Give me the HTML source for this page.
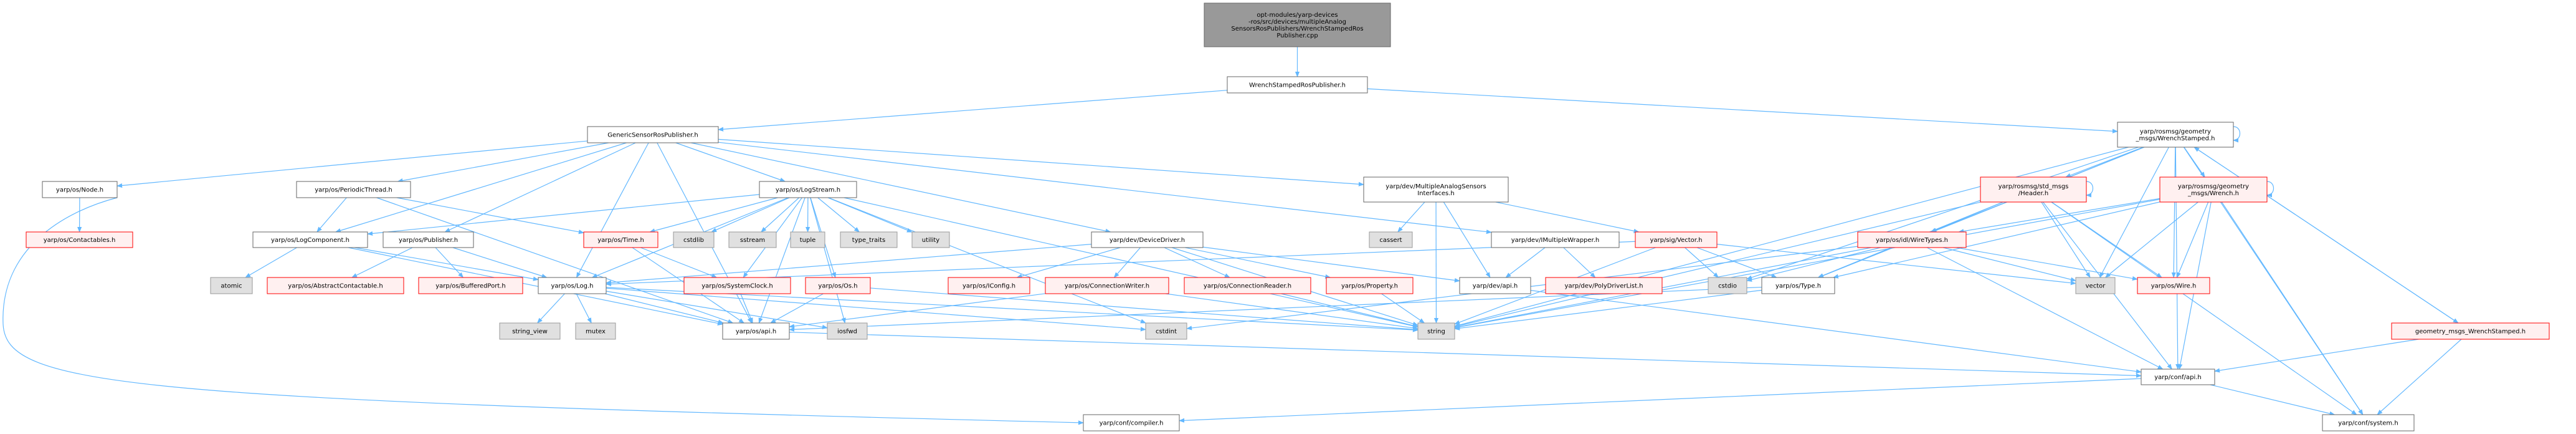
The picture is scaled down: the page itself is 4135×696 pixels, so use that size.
<!DOCTYPE html>
<html><head><meta charset="utf-8">
<style>
html,body{margin:0;padding:0;background:#fff;width:4135px;height:696px;overflow:hidden}
svg text{font-family:"DejaVu Sans","Liberation Sans",sans-serif;font-size:10px;fill:#000}
</style></head><body>
<svg id="g" width="4135" height="696" xmlns="http://www.w3.org/2000/svg">
<defs><marker id="a" viewBox="0 0 10 10" refX="9" refY="5" markerWidth="9" markerHeight="9" orient="auto" markerUnits="userSpaceOnUse"><path d="M0,1 L10,5 L0,9 z" fill="#63b8ff"/></marker></defs>
<g id="edges"></g>
<g id="nodes"></g>
</svg>
<script>
var N={
root:[1933,5,2232,75,'r',['opt-modules/yarp-devices','-ros/src/devices/multipleAnalog','SensorsRosPublishers/WrenchStampedRos','Publisher.cpp']],
wsrp:[1970,123,2195,149,'w',['WrenchStampedRosPublisher.h']],
gsrp:[943,203,1153,229,'w',['GenericSensorRosPublisher.h']],
ws:[3399,196,3585,236,'w',['yarp/rosmsg/geometry','_msgs/WrenchStamped.h']],
node:[68,291,188,317,'w',['yarp/os/Node.h']],
pt:[476,291,659,317,'w',['yarp/os/PeriodicThread.h']],
ls:[1219,291,1375,317,'w',['yarp/os/LogStream.h']],
masi:[2189,284,2421,324,'w',['yarp/dev/MultipleAnalogSensors','Interfaces.h']],
hdr:[3179,284,3349,324,'x',['yarp/rosmsg/std_msgs','/Header.h']],
wr:[3467,284,3639,324,'x',['yarp/rosmsg/geometry','_msgs/Wrench.h']],
cont:[42,372,213,397,'x',['yarp/os/Contactables.h']],
lc:[406,372,590,397,'w',['yarp/os/LogComponent.h']],
pub:[615,372,760,397,'w',['yarp/os/Publisher.h']],
time:[937,372,1056,397,'x',['yarp/os/Time.h']],
cstdlib:[1081,372,1146,397,'g',['cstdlib']],
sstream:[1170,372,1246,397,'g',['sstream']],
tuple:[1269,372,1324,397,'g',['tuple']],
tt:[1349,372,1440,397,'g',['type_traits']],
utility:[1464,372,1524,397,'g',['utility']],
dd:[1752,372,1931,397,'w',['yarp/dev/DeviceDriver.h']],
cassert:[2198,372,2267,397,'g',['cassert']],
imw:[2394,372,2599,397,'w',['yarp/dev/IMultipleWrapper.h']],
vec:[2625,372,2756,397,'x',['yarp/sig/Vector.h']],
wt:[2982,372,3156,397,'x',['yarp/os/idl/WireTypes.h']],
atomic:[338,445,405,471,'g',['atomic']],
abs:[429,445,648,471,'x',['yarp/os/AbstractContactable.h']],
bp:[672,445,839,471,'x',['yarp/os/BufferedPort.h']],
log:[864,445,973,471,'w',['yarp/os/Log.h']],
sc:[1098,445,1269,471,'x',['yarp/os/SystemClock.h']],
os:[1293,445,1397,471,'x',['yarp/os/Os.h']],
icfg:[1522,445,1653,471,'x',['yarp/os/IConfig.h']],
cw:[1678,445,1876,471,'x',['yarp/os/ConnectionWriter.h']],
cr:[1901,445,2104,471,'x',['yarp/os/ConnectionReader.h']],
prop:[2129,445,2268,471,'x',['yarp/os/Property.h']],
dapi:[2343,445,2457,471,'w',['yarp/dev/api.h']],
pdl:[2481,445,2668,471,'x',['yarp/dev/PolyDriverList.h']],
cstdio:[2742,445,2804,471,'g',['cstdio']],
type:[2828,445,2945,471,'w',['yarp/os/Type.h']],
vector:[3332,445,3395,471,'g',['vector']],
wire:[3431,445,3547,471,'x',['yarp/os/Wire.h']],
sv:[802,518,899,544,'g',['string_view']],
mutex:[924,518,988,544,'g',['mutex']],
osapi:[1160,518,1267,544,'w',['yarp/os/api.h']],
iosfwd:[1328,518,1392,544,'g',['iosfwd']],
cstdint:[1839,518,1905,544,'g',['cstdint']],
string:[2276,518,2335,544,'g',['string']],
gmws:[3839,518,4092,544,'x',['geometry_msgs_WrenchStamped.h']],
capi:[3437,592,3555,617,'w',['yarp/conf/api.h']],
comp:[1739,665,1893,691,'w',['yarp/conf/compiler.h']],
sys:[3728,665,3875,691,'w',['yarp/conf/system.h']]
};
var E=[['root','wsrp'],['wsrp','gsrp'],['wsrp','ws'],
['gsrp','node'],['gsrp','pt'],['gsrp','ls'],['gsrp','lc'],['gsrp','pub'],['gsrp','log'],['gsrp','dd'],['gsrp','masi'],['gsrp','imw'],['gsrp','osapi'],
['node','cont'],
['pt','time'],['pt','osapi'],['pt','lc'],
['ls','time'],['ls','cstdlib'],['ls','sstream'],['ls','tuple'],['ls','tt'],['ls','utility'],['ls','log'],['ls','sc'],['ls','os'],['ls','lc'],['ls','string'],['ls','iosfwd'],['ls','osapi'],['ls','cstdint'],
['lc','atomic'],['lc','log'],['lc','osapi'],
['pub','abs'],['pub','bp'],['pub','log'],
['time','sc'],['time','osapi'],
['log','sv'],['log','mutex'],['log','osapi'],['log','iosfwd'],['log','cstdint'],['log','string'],
['sc','osapi'],['os','osapi'],['os','string'],['osapi','capi'],
['dd','icfg'],['dd','cw'],['dd','cr'],['dd','prop'],['dd','dapi'],['dd','log'],['dd','string'],
['cw','osapi'],['cw','string'],['cr','string'],['prop','string'],
['masi','cassert'],['masi','string'],['masi','dapi'],['masi','vec'],
['imw','dapi'],['imw','pdl'],
['vec','string'],['vec','type'],['vec','cstdio'],['vec','vector'],['vec','log'],
['dapi','capi'],
['ws','hdr'],['ws','wr'],['ws','wt'],['ws','type'],['ws','vector'],['ws','wire'],['ws','string'],['ws','capi'],['ws','sys'],['ws','gmws'],['ws','cstdio'],
['hdr','wt'],['hdr','type'],['hdr','vector'],['hdr','wire'],['hdr','string'],['hdr','capi'],['hdr','sys'],
['wr','wt'],['wr','type'],['wr','vector'],['wr','wire'],['wr','capi'],['wr','sys'],['wr','string'],
['wt','cstdio'],['wt','type'],['wt','vector'],['wt','wire'],['wt','string'],['wt','capi'],['wt','cstdint'],
['type','string'],['type','osapi'],
['gmws','capi'],['gmws','sys'],['gmws','ws'],
['capi','sys'],['capi','comp']];
var S='http://www.w3.org/2000/svg';
var gn=document.getElementById('nodes'),ge=document.getElementById('edges');
function el(t,a,p){var e=document.createElementNS(S,t);for(var k in a)e.setAttribute(k,a[k]);p.appendChild(e);return e;}
var sty={w:['#fff','#666'],x:['#fff0f0','#ff0000'],g:['#e0e0e0','#999'],r:['#999','#666']};
for(var k in N){var n=N[k],s=sty[n[4]];
el('rect',{x:n[0],y:n[1],width:n[2]-n[0],height:n[3]-n[1],fill:s[0],stroke:s[1],'stroke-width':1},gn);
var L=n[5],lh=11,cy=(n[1]+n[3])/2-(L.length-1)*lh/2+3.5;
for(var i=0;i<L.length;i++){var t=el('text',{x:(n[0]+n[2])/2,y:cy+i*lh,'text-anchor':'middle'},gn);t.textContent=L[i];
var w=(n[2]-n[0])-14;try{if(t.getComputedTextLength()>w){t.setAttribute('textLength',w);t.setAttribute('lengthAdjust','spacingAndGlyphs');}}catch(e){}}}
function clip(n,px,py){var cx=(n[0]+n[2])/2,cy=(n[1]+n[3])/2,dx=px-cx,dy=py-cy,hw=(n[2]-n[0])/2,hh=(n[3]-n[1])/2;
var t=Math.min(dx?hw/Math.abs(dx):1e9,dy?hh/Math.abs(dy):1e9);return [cx+dx*t,cy+dy*t];}
E.forEach(function(e){var a=N[e[0]],b=N[e[1]];
var ax=(a[0]+a[2])/2,ay=(a[1]+a[3])/2,bx=(b[0]+b[2])/2,by=(b[1]+b[3])/2;
var p=clip(a,bx,by),q=clip(b,ax,ay);
el('path',{d:'M'+p[0]+','+p[1]+' L'+q[0]+','+q[1],fill:'none',stroke:'#63b8ff','stroke-width':1.2,'marker-end':'url(#a)'},ge);});
el('path',{d:'M188,317 C100,340 0,400 5,520 C10,620 200,640 1739,678',fill:'none',stroke:'#63b8ff','stroke-width':1.2,'marker-end':'url(#a)'},ge);
[['ws',3585,203,3585,225],['hdr',3349,291,3349,313],['wr',3639,291,3639,313]].forEach(function(l){
el('path',{d:'M'+l[1]+','+l[2]+' C'+(l[1]+14)+','+l[2]+' '+(l[1]+14)+','+l[4]+' '+l[3]+','+l[4],fill:'none',stroke:'#63b8ff','stroke-width':1.2,'marker-end':'url(#a)'},ge);});
</script>
</body></html>
